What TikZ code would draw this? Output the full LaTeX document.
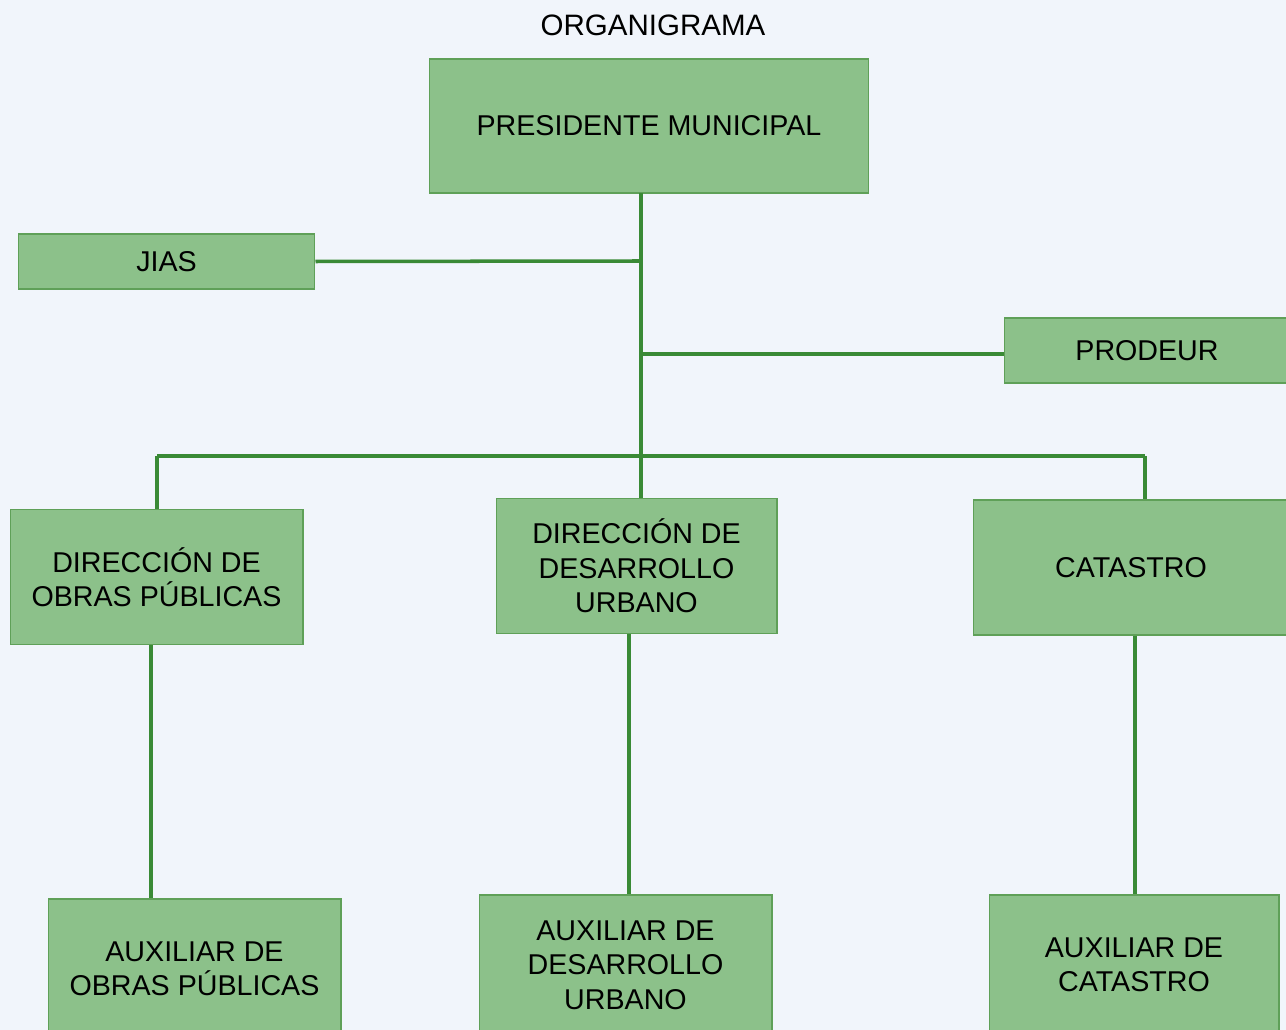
\documentclass[tikz,border=0pt]{standalone}
\usepackage{fontspec}
\setmainfont{Liberation Sans}
\usetikzlibrary{calc}
\definecolor{boxgreen}{HTML}{8CC18A}
\definecolor{edgegreen}{HTML}{5FA058}
\definecolor{linegreen}{HTML}{3A8A36}
\definecolor{paper}{HTML}{F1F5FB}
\tikzset{
  unit/.style={draw=edgegreen, fill=boxgreen, line width=0.6pt, align=center,
    font=\fontsize{16.3}{19.6}\selectfont, inner sep=0pt},
  link/.style={draw=linegreen, line width=2pt}
}

\begin{document}
\begin{tikzpicture}[x=0.02cm,y=-0.02cm]
        \fill[paper] (0,0) rectangle (1286,1030);
        \useasboundingbox (0,0) rectangle (1286,1030);
        \clip (0,0) rectangle (1286,1030);

        \node at (653,25) {\fontsize{16.8}{18}\selectfont ORGANIGRAMA};

        \node[unit, minimum width=8.8cm, minimum height=2.68cm] (pres) at (649,126) {PRESIDENTE MUNICIPAL};
        \node[unit, minimum width=5.94cm, minimum height=1.1cm] (jias) at (166.5,261.5) {JIAS};
        \node[unit, minimum width=5.7cm, minimum height=1.3cm] (prod) at (1147,350.5) {PRODEUR};

        \node[unit, minimum width=5.86cm, minimum height=2.7cm] (dop) at (156.5,577) {DIRECCIÓN DE\\OBRAS PÚBLICAS};
        \node[unit, minimum width=5.62cm, minimum height=2.7cm] (ddu) at (636.5,566) {DIRECCIÓN DE\\DESARROLLO\\URBANO};
        \node[unit, minimum width=6.3cm, minimum height=2.7cm] (cat) at (1131,567.5) {CATASTRO};

        \node[unit, minimum width=5.86cm, minimum height=2.8cm] (aop) at (194.5,969) {AUXILIAR DE\\OBRAS PÚBLICAS};
        \node[unit, minimum width=5.86cm, minimum height=2.8cm] (adu) at (625.5,965) {AUXILIAR DE\\DESARROLLO\\URBANO};
        \node[unit, minimum width=5.8cm, minimum height=2.8cm] (acat) at (1134,965) {AUXILIAR DE\\CATASTRO};

        % tronco principal
        \coordinate (top) at (641,193.5);
        \coordinate (jj) at (639,261);
        \coordinate (pj) at (641,354);
        \coordinate (bl) at (157,456);
        \coordinate (br) at (1145,456);
        \draw[link] (top) -- (ddu.north -| top);
        \draw[link] (jias.east) -- (jj);
        \draw[link] (pj) -- (prod.west |- pj);
        \draw[link] (bl) -- (br);
        \draw[link] (bl) -- (dop.north -| bl);
        \draw[link] (br) -- (cat.north -| br);

        % auxiliares
        \draw[link] (dop.south -| 151,0) -- (aop.north -| 151,0);
        \draw[link] (ddu.south -| 629,0) -- (adu.north -| 629,0);
        \draw[link] (cat.south -| 1135,0) -- (acat.north -| 1135,0);
    \end{tikzpicture}
\end{document}
